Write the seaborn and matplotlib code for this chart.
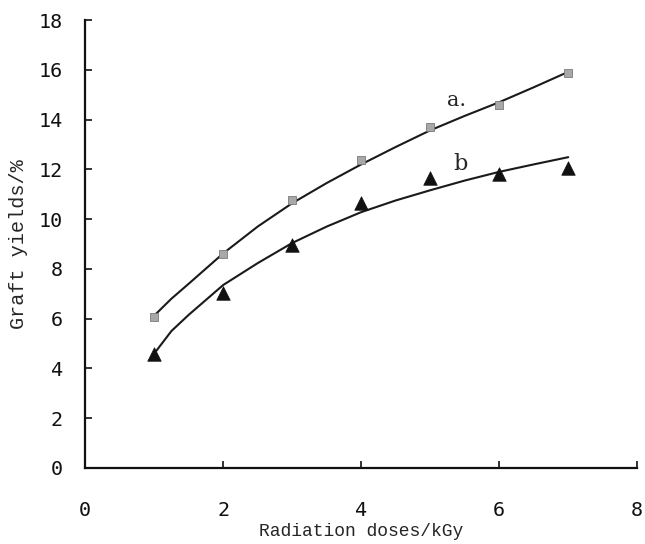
import matplotlib
matplotlib.use("Agg")
import matplotlib.pyplot as plt
import seaborn as sns
import pandas as pd

# measured points
dose = [1, 2, 3, 4, 5, 6, 7]
yield_a = [6.06, 8.59, 10.76, 12.37, 13.69, 14.58, 15.86]
yield_b = [4.58, 7.03, 8.96, 10.64, 11.65, 11.80, 12.05]

# fitted curves
curve_x = [1.03, 1.25, 1.5, 2.0, 2.5, 3.0, 3.5, 4.0, 4.5, 5.0, 5.5, 6.0, 6.5, 7.0]
curve_a = [6.2, 6.8, 7.4, 8.62, 9.7, 10.64, 11.45, 12.2, 12.9, 13.57, 14.15, 14.7, 15.3, 15.92]
curve_b = [4.7, 5.5, 6.15, 7.35, 8.23, 9.04, 9.7, 10.28, 10.75, 11.16, 11.55, 11.9, 12.2, 12.49]

x_ticks = [0, 2, 4, 6, 8]
y_ticks = [0, 2, 4, 6, 8, 10, 12, 14, 16, 18]

sns.set_style("ticks")
plt.rcParams['font.family'] = ['DejaVu Sans Mono', 'DejaVu Sans']

fig = plt.figure(figsize=(6.45, 5.44), dpi=100)
ax = fig.add_axes([0.132, 0.140, 0.856, 0.823])

pts = pd.DataFrame({"dose": dose, "a": yield_a, "b": yield_b})
curves = pd.DataFrame({"x": curve_x, "a": curve_a, "b": curve_b})

sns.lineplot(data=curves, x="x", y="a", ax=ax, color="#1a1a1a", lw=1.5)
sns.lineplot(data=curves, x="x", y="b", ax=ax, color="#1a1a1a", lw=1.5)
sns.scatterplot(data=pts, x="dose", y="a", ax=ax, marker="s", s=40,
                color="#a8a8a8", edgecolor="#7a7a7a", linewidth=0.6, zorder=3)
sns.scatterplot(data=pts, x="dose", y="b", ax=ax, marker="^", s=95,
                color="#111111", edgecolor="#111111", linewidth=0.5, zorder=3)

ax.text(5.38, 14.75, "a.", fontsize=15, family="DejaVu Serif", ha="center", va="center")
ax.text(5.44, 12.2, "b", fontsize=16, family="DejaVu Serif", ha="center", va="center")

ax.set_xlim(0, 8)
ax.set_ylim(0, 18)
ax.set_xticks(x_ticks)
ax.set_yticks(y_ticks)
ax.tick_params(direction="in", length=5, width=1.2, labelsize=14.5, colors="#111111")
ax.tick_params(axis="x", pad=24)
ax.tick_params(axis="y", pad=16)
for s in ["top", "right"]:
    ax.spines[s].set_visible(False)
for s in ["left", "bottom"]:
    ax.spines[s].set_linewidth(1.6)
    ax.spines[s].set_color("#111111")

ax.set_xlabel("Radiation doses/kGy", fontsize=13, labelpad=2, family="Liberation Mono")
ax.set_ylabel("Graft yields/%", fontsize=14.5, labelpad=8, family="Liberation Mono")

fig.savefig("out.png", dpi=100)
